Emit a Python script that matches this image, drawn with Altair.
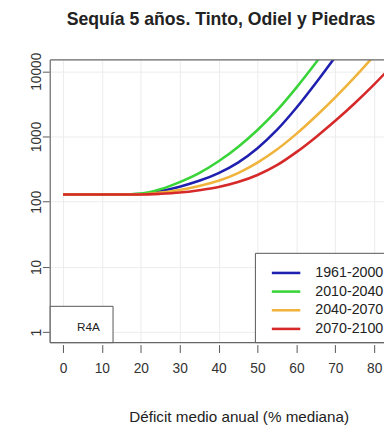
import altair as alt
import pandas as pd

# ---- data ----
periods = ["1961-2000", "2010-2040", "2040-2070", "2070-2100"]
colors = ["#1f1fb0", "#38d438", "#f0b43c", "#d62a2a"]
x_vals = [0, 5, 10, 15, 20, 25, 30, 35, 40, 45, 50, 55, 60, 65, 70, 75, 80, 85]
v_1961_2000 = [129, 129, 129, 129, 131, 145, 170, 209, 275, 398, 661, 1259, 2754, 6607, 16596]
v_2010_2040 = [129, 129, 129, 129, 133, 155, 200, 275, 417, 692, 1259, 2512, 5623, 13490, 33884]
v_2040_2070 = [129, 129, 129, 129, 130, 138, 151, 174, 209, 275, 398, 631, 1096, 2042, 3981, 8128, 17378]
v_2070_2100 = [129, 129, 129, 129, 129, 132, 138, 150, 168, 200, 257, 363, 575, 977, 1738, 3236, 6310, 12882]
x_ticks = [0, 10, 20, 30, 40, 50, 60, 70, 80]
y_ticks = [1, 10, 100, 1000, 10000]
title_text = "Sequía 5 años. Tinto, Odiel y Piedras"
x_title = "Déficit medio anual (% mediana)"
box_label = "R4A"

series = [v_1961_2000, v_2010_2040, v_2040_2070, v_2070_2100]
rows = []
for p, vals in zip(periods, series):
    for x, v in zip(x_vals, vals):
        rows.append({"x": x, "v": v, "period": p})
df = pd.DataFrame(rows)
one = pd.DataFrame({"a": [0]})

W, H = 340, 288
FONT = "Liberation Sans"

lines = alt.Chart(df).mark_line(
    clip=True, strokeWidth=2.6, interpolate="monotone"
).encode(
    x=alt.X("x:Q",
            scale=alt.Scale(domain=[-3.28, 82.52], nice=False, zero=False),
            axis=alt.Axis(values=x_ticks, title=x_title, domain=False,
                          offset=2, tickSize=8, tickColor="#555", tickWidth=1,
                          labelFontSize=14, labelColor="#333", labelPadding=9,
                          labelFont=FONT, grid=True, gridColor="#ececec",
                          titleFont=FONT, titleFontSize=15.5, titleFontWeight="normal",
                          titleColor="#222", titleX=192, titleY=78,
                          titleBaseline="alphabetic", titleAlign="center")),
    y=alt.Y("v:Q",
            scale=alt.Scale(type="log", domain=[0.69, 14930], nice=False),
            axis=alt.Axis(values=y_ticks, format="d", title=None, domain=False,
                          offset=1, tickSize=7, tickColor="#555", tickWidth=1,
                          labelAngle=270, labelAlign="center", labelBaseline="bottom",
                          labelFontSize=14, labelColor="#333", labelPadding=-1,
                          labelFont=FONT, grid=True, gridColor="#ececec")),
    color=alt.Color("period:N",
                    scale=alt.Scale(domain=periods, range=colors),
                    legend=alt.Legend(title=None, orient="none", legendX=213, legendY=197,
                                      symbolType="M-1,0H3", symbolSize=210,
                                      symbolStrokeWidth=2.6, labelFontSize=14.5,
                                      labelFont=FONT, labelColor="#222",
                                      labelOffset=28, rowPadding=3, padding=11)),
    order=alt.Order("period:N"),
)

left = alt.Chart(one).mark_rule(color="#666", strokeWidth=1.2).encode(
    x=alt.value(0), y=alt.value(0), y2=alt.value(H))
top = alt.Chart(one).mark_rule(color="#666", strokeWidth=1.2).encode(
    x=alt.value(0), x2=alt.value(W), y=alt.value(0))
bottom = alt.Chart(one).mark_rule(color="#666", strokeWidth=1.2).encode(
    x=alt.value(0), x2=alt.value(W), y=alt.value(H))
rbox = alt.Chart(one).mark_rect(fill="white", stroke="#555", strokeWidth=1).encode(
    x=alt.value(0), x2=alt.value(64), y=alt.value(251), y2=alt.value(H))
rtext = alt.Chart(one).mark_text(fontSize=12, font=FONT, color="#222").encode(
    x=alt.value(39), y=alt.value(272), text=alt.value(box_label))
lbox = alt.Chart(one).mark_rect(fill="white", stroke="#555", strokeWidth=1).encode(
    x=alt.value(209), x2=alt.value(W + 30), y=alt.value(197), y2=alt.value(H))

chart = alt.layer(lines, lbox, left, top, bottom, rbox, rtext).properties(
    width=W, height=H,
    autosize="none",
    padding={"left": 43, "top": 49, "right": 0, "bottom": 80},
    title=alt.TitleParams(text=title_text, font=FONT, fontSize=18, fontWeight="bold",
                          color="#222", anchor="middle", frame="group", offset=24, dx=4),
).configure_view(strokeWidth=0)

chart.save("out.html", embed_options={"renderer": "svg", "actions": False})
